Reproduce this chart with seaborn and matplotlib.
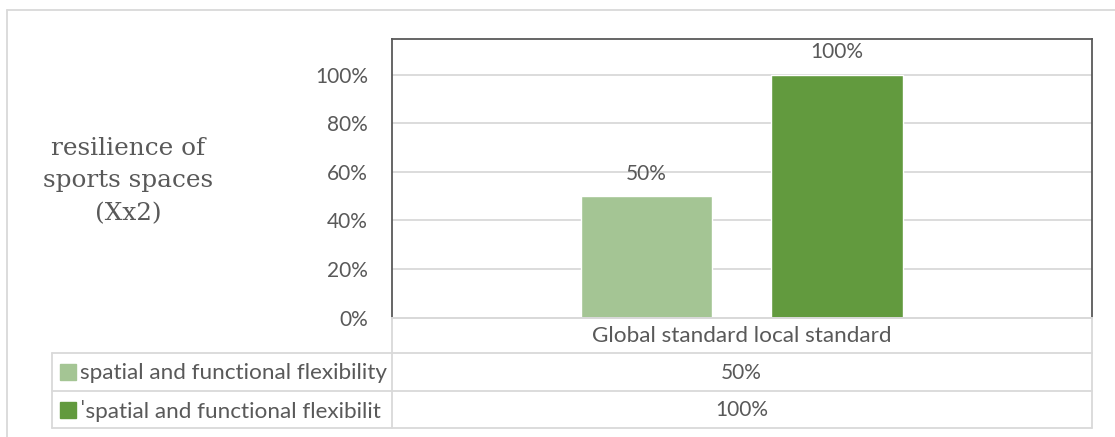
import matplotlib
matplotlib.use("Agg")
import matplotlib.pyplot as plt
from matplotlib.lines import Line2D
from matplotlib.patches import Rectangle
import seaborn as sns
import pandas as pd

# Chart data
category = ["Global standard local standard"]
series_names = ["spatial and functional flexibility", "\u02c8spatial and functional flexibilit"]
series_values = [0.50, 1.00]
series_colors = ["#A4C594", "#629A3E"]
y_ticks = [0.0, 0.2, 0.4, 0.6, 0.8, 1.0]
y_title = "resilience of\nsports spaces\n(Xx2)"

sns.set_theme(style="white")
plt.rcParams["font.family"] = ["Lato", "DejaVu Sans"]
TEXT = "#595959"
GRID = "#D9D9D9"
NUM_FS = 15.0
WORD_FS = 16.2

df = pd.DataFrame({
    "category": category * len(series_names),
    "series": series_names,
    "value": series_values,
})

W, H = 1115, 437
fig = plt.figure(figsize=(W / 100, H / 100), dpi=100)
fig.patch.set_facecolor("white")

def fx(px):
    return px / W

def fy(py):
    return 1 - py / H

L, R, T, B = 391.7, 1091.7, 39.0, 317.5
ax = fig.add_axes([fx(L), fy(B), fx(R - L), (B - T) / H])

sns.barplot(data=df, x="category", y="value", hue="series",
            palette=series_colors, width=0.545, gap=0.31,
            saturation=1, legend=False, ax=ax)

ax.set_xlim(-0.5, 0.5)
ax.set_ylim(0, 1.148)
ax.set_yticks(y_ticks)
ax.set_yticklabels([f"{v:.0%}" for v in y_ticks], fontsize=NUM_FS, color=TEXT)
ax.tick_params(axis="y", length=0, pad=17)
ax.set_xticks([])
ax.set_xlabel("")
ax.set_ylabel("")
ax.yaxis.grid(True, color=GRID, linewidth=1.3)
ax.set_axisbelow(True)
for s in ax.spines.values():
    s.set_visible(True)
    s.set_color(TEXT)
    s.set_linewidth(1.3)
ax.spines["bottom"].set_color(GRID)

for cont in ax.containers:
    vals = [b.get_height() for b in cont]
    ax.bar_label(cont, labels=[f"{v:.0%}" for v in vals], padding=9,
                 fontsize=NUM_FS, color=TEXT)

# Vertical axis title
fig.text(fx(128), fy(181), y_title, ha="center", va="center",
         family="DejaVu Serif", fontsize=17.8, color=TEXT, linespacing=1.52)

# Data table below the plot
rows_y = [317.5, 353.0, 391.0, 428.0]
tl = 52.0

def hline(x0, x1, y):
    fig.add_artist(Line2D([fx(x0), fx(x1)], [fy(y), fy(y)], color=GRID, lw=1.3))

def vline(x, y0, y1):
    fig.add_artist(Line2D([fx(x), fx(x)], [fy(y0), fy(y1)], color=GRID, lw=1.3))

hline(L, R, rows_y[0])
for y in rows_y[1:]:
    hline(tl, R, y)
vline(L, rows_y[0], rows_y[3])
vline(R, rows_y[0], rows_y[3])
vline(tl, rows_y[1], rows_y[3])

cx = (L + R) / 2
fig.text(fx(cx), fy((rows_y[0] + rows_y[1]) / 2 + 1), category[0],
         ha="center", va="center", fontsize=WORD_FS, color=TEXT)
for i, (name, val, col) in enumerate(zip(series_names, series_values, series_colors)):
    yc = (rows_y[i + 1] + rows_y[i + 2]) / 2
    fig.add_artist(Rectangle((fx(60), fy(yc + 8)), fx(16), 16 / H, color=col,
                             transform=fig.transFigure))
    fig.text(fx(80), fy(yc + 1), name, ha="left", va="center",
             fontsize=WORD_FS, color=TEXT)
    fig.text(fx(cx), fy(yc + 1), f"{val:.0%}", ha="center", va="center",
             fontsize=NUM_FS, color=TEXT)

# Chart area frame
fig.add_artist(Line2D([fx(7), fx(W)], [fy(10), fy(10)], color=GRID, lw=1.3))
fig.add_artist(Line2D([fx(7), fx(7)], [fy(10), fy(H)], color=GRID, lw=1.3))

fig.savefig("out.png", dpi=100)
